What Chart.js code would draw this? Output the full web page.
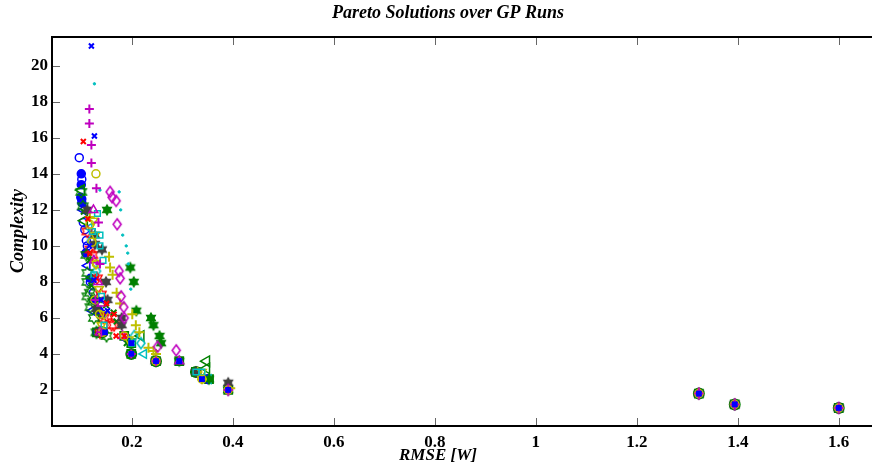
<!DOCTYPE html>
<html>
<head>
<meta charset="utf-8">
<script src="https://cdn.jsdelivr.net/npm/chart.js@4"></script>
<style>
  html, body { margin: 0; padding: 0; background: #fff; overflow: hidden; }
</style>
</head>
<body>
<canvas id="paretoChart" width="872" height="470"></canvas>
<script>
// axis ticks
var xTicks = [0.2, 0.4, 0.6, 0.8, 1.0, 1.2, 1.4, 1.6];
var xTickLabels = ['0.2', '0.4', '0.6', '0.8', '1', '1.2', '1.4', '1.6'];
var yTicks = [2, 4, 6, 8, 10, 12, 14, 16, 18, 20];

// shared end of most fronts (RMSE, complexity)
var farTail = [[1.323, 1.8], [1.394, 1.2], [1.600, 1.0]];

// pareto points per run [RMSE, complexity]
var runBlueSquare = [[0.147, 5.2], [0.199, 4.6], [0.199, 4.0], [0.248, 3.6], [0.294, 3.6], [0.339, 2.6], [0.391, 2.0]];
var runBlueX = [[0.120, 21.1], [0.126, 16.1], [0.116, 10.0], [0.125, 8.1], [0.139, 7.0], [0.152, 6.4], [0.200, 4.6], [0.294, 3.6], [0.339, 2.6], [0.391, 2.0]];
var runRedX = [[0.104, 15.8], [0.113, 11.5], [0.117, 9.6], [0.130, 8.2], [0.150, 6.8], [0.165, 6.2], [0.169, 5.0], [0.185, 5.0], [0.199, 4.0], [0.391, 2.0]];
var runMagentaPlus = [[0.116, 17.6], [0.116, 16.8], [0.120, 15.6], [0.120, 14.6], [0.130, 13.2], [0.134, 11.3], [0.137, 9.0], [0.128, 7.0], [0.140, 5.2], [0.199, 4.0], [0.248, 3.6], [0.391, 2.0]];
var runCyanDot = [[0.126, 19.0], [0.137, 13.1], [0.175, 13.0], [0.178, 12.0], [0.182, 10.6], [0.189, 10.0], [0.192, 9.6], [0.193, 9.0], [0.198, 7.6], [0.248, 3.6], [0.391, 2.0]];
var runYellowO = [[0.129, 14.0], [0.117, 11.2], [0.121, 10.2], [0.130, 9.0], [0.127, 7.0], [0.136, 6.2], [0.142, 5.2], [0.185, 5.0], [0.248, 3.6], [0.339, 2.6], [0.391, 2.0]];
var runMagentaDiamond = [[0.157, 13.0], [0.161, 12.7], [0.169, 12.5], [0.171, 11.2], [0.175, 8.6], [0.177, 8.2], [0.179, 7.2], [0.184, 6.6], [0.185, 6.0], [0.251, 4.4], [0.288, 4.2], [0.391, 2.0]];
var runMagentaTri = [[0.124, 12.0], [0.125, 9.2], [0.133, 8.0], [0.140, 6.8], [0.137, 5.2], [0.182, 5.0], [0.294, 3.6]];
var runCyanSquare = [[0.132, 11.8], [0.122, 10.8], [0.137, 10.6], [0.137, 10.0], [0.143, 9.2], [0.125, 8.4], [0.140, 7.2], [0.145, 5.6], [0.200, 4.6], [0.327, 3.0], [0.339, 3.0]];
var runYellowV = [[0.124, 11.4], [0.127, 10.6], [0.129, 9.0], [0.135, 7.6], [0.145, 6.2], [0.140, 5.6], [0.194, 4.8], [0.339, 3.0]];
var runGrayHex = [[0.112, 12.0], [0.127, 10.6], [0.127, 10.1], [0.141, 9.8], [0.149, 8.0], [0.152, 7.0], [0.130, 6.5], [0.180, 6.0], [0.180, 5.6], [0.247, 3.6], [0.327, 3.0], [0.391, 2.4]];
var runYellowPlus = [[0.117, 11.6], [0.155, 9.4], [0.157, 8.8], [0.162, 8.4], [0.170, 7.4], [0.177, 6.8], [0.201, 6.2], [0.208, 5.6], [0.215, 5.2], [0.233, 4.35], [0.243, 4.16], [0.248, 4.0], [0.330, 3.0], [0.339, 2.6], [0.395, 2.1]];
var runGreenHex = [[0.151, 12.0], [0.197, 8.8], [0.204, 8.0], [0.209, 6.4], [0.238, 6.0], [0.243, 5.6], [0.255, 5.0], [0.258, 4.6], [0.248, 3.6], [0.294, 3.6], [0.327, 3.0], [0.353, 2.6], [0.391, 2.0]];
var runGreenStar = [[0.100, 13.0], [0.103, 12.2], [0.110, 9.5], [0.112, 8.5], [0.112, 8.0], [0.117, 7.4], [0.123, 6.9], [0.112, 7.2], [0.118, 6.6], [0.125, 6.0], [0.130, 5.2], [0.150, 5.0]];
var runGreenX = [[0.105, 11.9], [0.116, 9.2], [0.120, 7.8], [0.135, 7.0], [0.149, 6.7], [0.164, 6.3], [0.170, 5.8], [0.190, 4.6]];
var runRedHex = [[0.112, 10.8], [0.118, 9.8], [0.122, 9.5], [0.131, 8.2], [0.139, 7.3], [0.144, 6.0], [0.151, 6.1], [0.165, 5.6], [0.160, 5.6], [0.137, 5.2]];
var runCyanDiamond = [[0.120, 10.3], [0.130, 8.6], [0.205, 5.0], [0.218, 4.6]];
var runCyanLeft = [[0.116, 11.0], [0.224, 4.0], [0.352, 2.6]];
var runGreenLeft = [[0.100, 13.1], [0.106, 11.4], [0.218, 5.0], [0.348, 3.6], [0.348, 3.2]];
var runBlueLeft = [[0.103, 12.0], [0.112, 8.9], [0.121, 6.4], [0.190, 4.8], [0.345, 2.6]];
var runBlueO = [[0.096, 14.9], [0.101, 13.7], [0.104, 11.3], [0.107, 10.9], [0.110, 10.3], [0.112, 10.0], [0.118, 8.0], [0.124, 7.4], [0.131, 5.2]];
var runBlueDot = [[0.100, 14.0], [0.100, 13.4], [0.099, 12.7], [0.101, 12.4], [0.101, 12.6], [0.109, 9.6], [0.118, 8.2], [0.125, 7.0], [0.135, 6.4], [0.142, 6.2]];
var runGreenO = [[0.137, 5.2], [0.142, 5.2], [0.199, 4.0], [0.248, 3.6], [0.327, 3.0]];
var runGreenSquare = [[0.131, 5.2], [0.185, 5.0], [0.199, 4.6], [0.199, 4.0], [0.248, 3.6], [0.294, 3.6], [0.327, 3.0], [0.353, 2.6], [0.391, 2.0]];

var BLUE = '#0000ff', GREEN = '#008000', RED = '#ff0000', CYAN = '#00bfbf',
    MAGENTA = '#bf00bf', YELLOW = '#bfbf00', GRAY = '#404040';

// six-pointed star marker drawn on a small canvas
function hexagram(color, filled, r) {
    var c = document.createElement('canvas');
    var s = Math.ceil(r * 2 + 4);
    c.width = s; c.height = s;
    var g = c.getContext('2d');
    var m = s / 2;
    g.beginPath();
    for (var k = 0; k < 12; k++) {
        var ang = -Math.PI / 2 + k * Math.PI / 6;
        var rr = (k % 2) ? r * 0.58 : r;
        g.lineTo(m + rr * Math.cos(ang), m + rr * Math.sin(ang));
    }
    g.closePath();
    if (filled) { g.fillStyle = color; g.fill(); }
    g.strokeStyle = color; g.lineWidth = 1.3; g.stroke();
    return c;
}

// matlab 'd' marker is a bit taller than wide
function diamond(color, w, h) {
    var c = document.createElement('canvas');
    c.width = Math.ceil(w + 4); c.height = Math.ceil(h + 4);
    var g = c.getContext('2d');
    var mx = c.width / 2, my = c.height / 2;
    g.beginPath();
    g.moveTo(mx, my - h / 2);
    g.lineTo(mx + w / 2, my);
    g.lineTo(mx, my + h / 2);
    g.lineTo(mx - w / 2, my);
    g.closePath();
    g.strokeStyle = color; g.lineWidth = 1.6; g.stroke();
    return c;
}

function run(pts, color, style, opts) {
    opts = opts || {};
    var withTail = opts.tail !== false;
    var all = withTail ? pts.concat(farTail) : pts;
    return {
        data: all.map(function (p) { return { x: p[0], y: p[1] }; }),
        pointStyle: style,
        pointRadius: opts.r || 4,
        pointBorderWidth: opts.bw || 1.5,
        pointBorderColor: color,
        pointBackgroundColor: opts.fill ? color : 'rgba(0,0,0,0)',
        pointRotation: opts.rot || 0,
        showLine: false
    };
}

var datasets = [
    run(runBlueSquare, BLUE, 'rect', { r: 3, fill: true }),
    run(runBlueX, BLUE, 'crossRot', { r: 3.5, bw: 2 }),
    run(runRedX, RED, 'crossRot', { r: 3.5, bw: 2 }),
    run(runMagentaPlus, MAGENTA, 'cross', { r: 4.5, bw: 2 }),
    run(runCyanDot, CYAN, 'circle', { r: 1.2, bw: 1, fill: true }),
    run(runYellowO, YELLOW, 'circle', { r: 4 }),
    run(runMagentaDiamond, MAGENTA, diamond(MAGENTA, 8, 11)),
    run(runMagentaTri, MAGENTA, 'triangle', { r: 5, tail: false }),
    run(runCyanSquare, CYAN, 'rect', { r: 4 }),
    run(runYellowV, YELLOW, 'triangle', { r: 5, rot: 180, tail: false }),
    run(runGrayHex, GRAY, hexagram(GRAY, true, 5)),
    run(runYellowPlus, YELLOW, 'cross', { r: 5, bw: 2 }),
    run(runGreenHex, GREEN, hexagram(GREEN, true, 5)),
    run(runGreenStar, GREEN, hexagram(GREEN, false, 6), { tail: false }),
    run(runGreenX, GREEN, 'crossRot', { r: 4, bw: 2, tail: false }),
    run(runRedHex, RED, hexagram(RED, false, 6), { tail: false }),
    run(runCyanDiamond, CYAN, diamond(CYAN, 8, 11), { tail: false }),
    run(runCyanLeft, CYAN, 'triangle', { r: 5, rot: -90, tail: false }),
    run(runGreenLeft, GREEN, 'triangle', { r: 6, rot: -90, tail: false }),
    run(runBlueLeft, BLUE, 'triangle', { r: 5, rot: -90, tail: false }),
    run(runBlueO, BLUE, 'circle', { r: 4, tail: false }),
    run(runBlueDot, BLUE, 'circle', { r: 4, fill: true, tail: false }),
    run(runGreenO, GREEN, 'circle', { r: 5, bw: 2 }),
    run(runGreenSquare, GREEN, 'rect', { r: 5.5, bw: 2 })
];

// inward ticks, box and titles like the matlab figure
var frame = {
    id: 'frame',
    afterDraw: function (chart) {
        var ctx = chart.ctx, a = chart.chartArea;
        var xs = chart.scales.x, ys = chart.scales.y;
        var w = chart.width;
        ctx.save();
        ctx.strokeStyle = '#666';
        ctx.lineWidth = 1;
        ctx.beginPath();
        xTicks.forEach(function (v) {
            var px = Math.round(xs.getPixelForValue(v)) + 0.5;
            ctx.moveTo(px, a.bottom); ctx.lineTo(px, a.bottom - 8);
            ctx.moveTo(px, a.top); ctx.lineTo(px, a.top + 8);
        });
        yTicks.forEach(function (v) {
            var py = Math.round(ys.getPixelForValue(v)) + 0.5;
            ctx.moveTo(a.left, py); ctx.lineTo(a.left + 8, py);
        });
        ctx.stroke();

        // box runs off the right edge of the figure
        ctx.strokeStyle = '#000';
        ctx.lineWidth = 2;
        ctx.beginPath();
        ctx.moveTo(w, a.top);
        ctx.lineTo(a.left, a.top);
        ctx.lineTo(a.left, a.bottom);
        ctx.lineTo(w, a.bottom);
        ctx.stroke();

        ctx.fillStyle = '#000';
        ctx.textAlign = 'center';
        ctx.textBaseline = 'middle';
        ctx.font = 'bold italic 18px "Liberation Serif"';
        ctx.fillText('Pareto Solutions over GP Runs', 448, 13);
        ctx.font = 'bold italic 17px "Liberation Serif"';
        ctx.fillText('RMSE [W]', 438, 456);
        ctx.translate(18, 231);
        ctx.rotate(-Math.PI / 2);
        ctx.font = 'bold italic 18px "Liberation Serif"';
        ctx.fillText('Complexity', 0, 0);
        ctx.restore();
    }
};

var ctx = document.getElementById('paretoChart').getContext('2d');
var paretoChart = new Chart(ctx, {
    type: 'scatter',
    data: { datasets: datasets },
    options: {
        responsive: false,
        animation: false,
        layout: { padding: { top: 37, right: 0, left: 0, bottom: 0 } },
        plugins: {
            legend: { display: false },
            tooltip: { enabled: false }
        },
        scales: {
            x: {
                type: 'linear',
                min: 0.042,
                max: 1.651,
                grid: { display: false, drawTicks: false },
                border: { display: false },
                afterBuildTicks: function (scale) {
                    scale.ticks = xTicks.map(function (v) { return { value: v }; });
                },
                afterFit: function (scale) {
                    scale.height = 44;
                    scale.paddingLeft = 0;
                    scale.paddingRight = 0;
                },
                ticks: {
                    autoSkip: false,
                    maxRotation: 0,
                    padding: 6,
                    color: '#000',
                    font: { family: 'Liberation Serif', size: 17, weight: 'bold' },
                    callback: function (v, i) { return xTickLabels[i]; }
                }
            },
            y: {
                type: 'linear',
                min: 0,
                max: 21.6,
                grid: { display: false, drawTicks: false },
                border: { display: false },
                afterBuildTicks: function (scale) {
                    scale.ticks = yTicks.map(function (v) { return { value: v }; });
                },
                afterFit: function (scale) {
                    scale.width = 52;
                    scale.paddingTop = 0;
                    scale.paddingBottom = 0;
                },
                ticks: {
                    autoSkip: false,
                    padding: 4,
                    color: '#000',
                    font: { family: 'Liberation Serif', size: 17, weight: 'bold' }
                }
            }
        }
    },
    plugins: [frame]
});
</script>
</body>
</html>
